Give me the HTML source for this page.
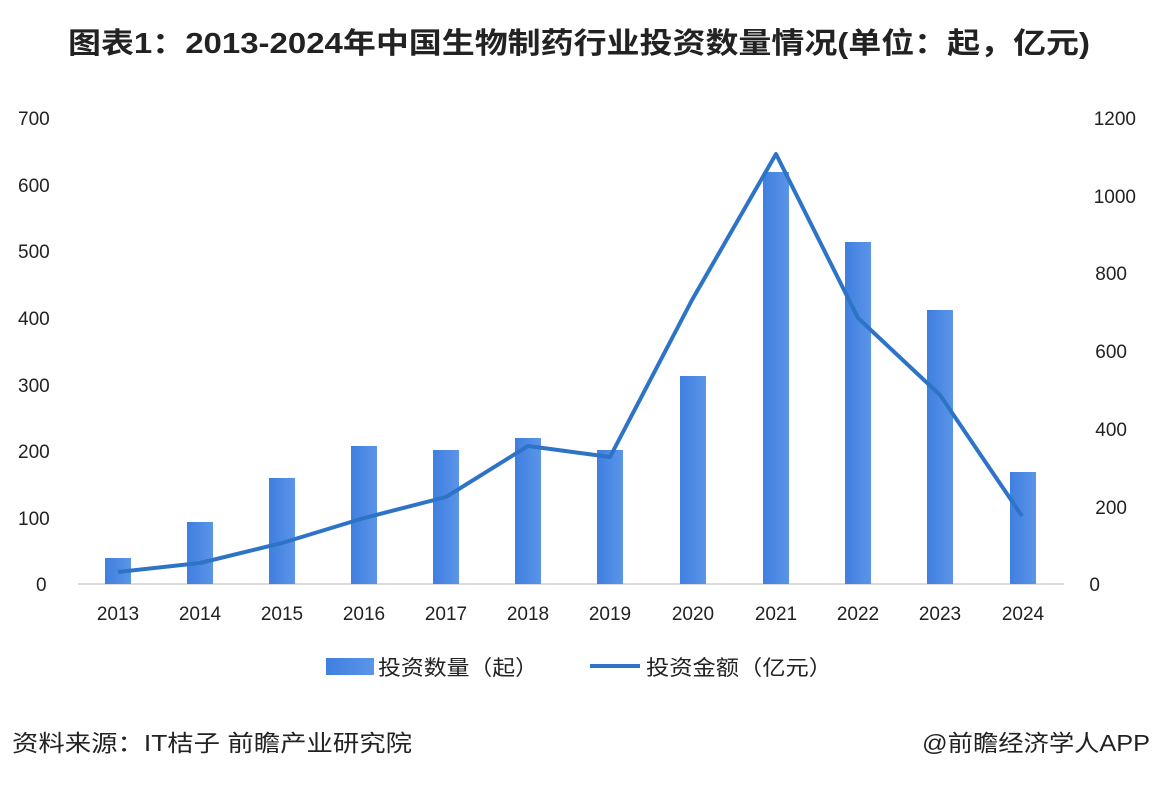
<!DOCTYPE html>
<html><head><meta charset="utf-8"><style>
body{margin:0;background:#fff;width:1158px;height:784px;overflow:hidden;font-family:"Liberation Sans","Noto Sans CJK SC",sans-serif;}
</style></head><body>
<svg width="1158" height="784" xmlns="http://www.w3.org/2000/svg" font-family="Liberation Sans, Noto Sans CJK SC, sans-serif">
<defs><linearGradient id="g" x1="0" x2="1"><stop offset="0" stop-color="#3f7fe0"/><stop offset="1" stop-color="#5b95e8"/></linearGradient></defs>
<text x="68" y="53" font-size="29" font-weight="bold" fill="#222" textLength="1022" lengthAdjust="spacingAndGlyphs">图表1：2013-2024年中国生物制药行业投资数量情况(单位：起，亿元)</text>
<g font-size="19" fill="#222" text-anchor="start">
<text x="18" y="125">700</text><text x="18" y="192">600</text><text x="18" y="258">500</text><text x="18" y="325">400</text><text x="18" y="392">300</text><text x="18" y="458">200</text><text x="18" y="525">100</text><text x="36" y="591">0</text>
</g>
<g font-size="19" fill="#222" text-anchor="end">
<text x="1136" y="125">1200</text><text x="1136" y="203">1000</text><text x="1127" y="280">800</text><text x="1127" y="358">600</text><text x="1127" y="436">400</text><text x="1127" y="514">200</text><text x="1100" y="591">0</text>
</g>
<line x1="78" y1="584" x2="1064" y2="584" stroke="#d0d0d0" stroke-width="1.5"/>
<g fill="url(#g)">
<rect x="105" y="558" width="26" height="26"/>
<rect x="187" y="522" width="26" height="62"/>
<rect x="269" y="478" width="26" height="106"/>
<rect x="351" y="446" width="26" height="138"/>
<rect x="433" y="450" width="26" height="134"/>
<rect x="515" y="438" width="26" height="146"/>
<rect x="597" y="450" width="26" height="134"/>
<rect x="680" y="376" width="26" height="208"/>
<rect x="763" y="172" width="26" height="412"/>
<rect x="845" y="242" width="26" height="342"/>
<rect x="927" y="310" width="26" height="274"/>
<rect x="1010" y="472" width="26" height="112"/>
</g>
<polyline fill="none" stroke="#2e74c6" stroke-width="4" stroke-linejoin="round" points="118,572 200,563 282,543 364,518 446,497 528,446 610,457 692,300 776,154 858,318 940,395 1022,516"/>
<g font-size="19" fill="#222" text-anchor="middle">
<text x="118" y="620">2013</text><text x="200" y="620">2014</text><text x="282" y="620">2015</text><text x="364" y="620">2016</text><text x="446" y="620">2017</text><text x="528" y="620">2018</text><text x="610" y="620">2019</text><text x="693" y="620">2020</text><text x="776" y="620">2021</text><text x="858" y="620">2022</text><text x="940" y="620">2023</text><text x="1023" y="620">2024</text>
</g>
<rect x="326" y="658" width="48" height="17" fill="url(#g)"/>
<text x="378" y="675" font-size="21" fill="#222" textLength="160" lengthAdjust="spacingAndGlyphs">投资数量（起）</text>
<line x1="590" y1="666" x2="640" y2="666" stroke="#2e74c6" stroke-width="4"/>
<text x="646" y="675" font-size="21" fill="#222" textLength="186" lengthAdjust="spacingAndGlyphs">投资金额（亿元）</text>
<text x="12" y="751" font-size="23" fill="#222" textLength="400" lengthAdjust="spacingAndGlyphs">资料来源：IT桔子 前瞻产业研究院</text>
<text x="922" y="751" font-size="23" fill="#222" textLength="228" lengthAdjust="spacingAndGlyphs">@前瞻经济学人APP</text>
</svg>
</body></html>
